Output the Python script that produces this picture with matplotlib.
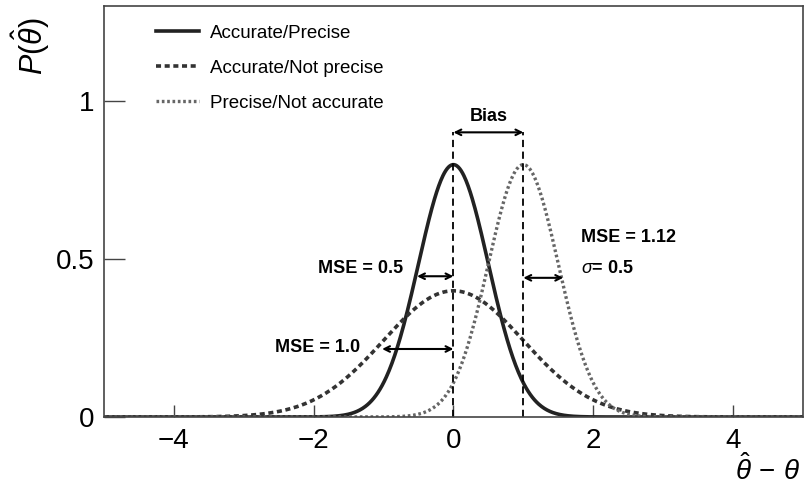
import matplotlib.pyplot as plt
import numpy as np

# Gaussian shapes (peak position and width)
labels = ['Accurate/Precise', 'Accurate/Not precise', 'Precise/Not accurate']
means = [0.0, 0.0, 1.0]
sigmas = [0.5, 1.0, 0.5]
styles = ['-', (0, (1.4, 1.0)), (0, (0.8, 0.8))]
widths = [2.6, 2.6, 2.4]
colors = ['#222222', '#333333', '#666666']

x_ticks = [-4, -2, 0, 2, 4]
x_tick_labels = ['\u22124', '\u22122', '0', '2', '4']
y_ticks = [0, 0.5, 1]
y_tick_labels = ['0', '0.5', '1']

plt.rcParams['font.family'] = ['Liberation Sans', 'DejaVu Sans']
plt.rcParams['mathtext.fontset'] = 'custom'
plt.rcParams['mathtext.rm'] = 'Liberation Sans'
plt.rcParams['mathtext.it'] = 'Liberation Sans:italic'

fig = plt.figure(figsize=(8.05, 4.86), dpi=100)
ax = fig.add_axes([0.129, 0.142, 0.8685, 0.846])

x = np.linspace(-5, 5, 1001)
for lab, m, s, ls, lw, c in zip(labels, means, sigmas, styles, widths, colors):
    y = np.exp(-0.5 * ((x - m) / s) ** 2) / (s * np.sqrt(2 * np.pi))
    ax.plot(x, y, linestyle=ls, linewidth=lw, color=c, label=lab)

# lignes verticales aux moyennes
ax.plot([0, 0], [0, 0.90], color='black', linestyle=(0, (4, 2.5)), linewidth=1.3)
ax.plot([1, 1], [0, 0.90], color='black', linestyle=(0, (4, 2.5)), linewidth=1.3)

arrow = dict(arrowstyle='<->', color='black', lw=1.5, shrinkA=0, shrinkB=0)
ax.annotate('', xy=(0, 0.90), xytext=(1, 0.90), arrowprops=arrow)
ax.text(0.5, 0.95, 'Bias', ha='center', va='center', fontsize=13, fontweight='bold')

ax.annotate('', xy=(-0.52, 0.445), xytext=(0, 0.445), arrowprops=arrow)
ax.text(-0.72, 0.47, 'MSE = 0.5', ha='right', va='center', fontsize=13, fontweight='bold')

ax.annotate('', xy=(-1.02, 0.215), xytext=(0, 0.215), arrowprops=arrow)
ax.text(-1.33, 0.22, 'MSE = 1.0', ha='right', va='center', fontsize=13, fontweight='bold')

ax.annotate('', xy=(1.0, 0.44), xytext=(1.57, 0.44), arrowprops=arrow)
ax.text(1.82, 0.566, 'MSE = 1.12', ha='left', va='center', fontsize=13, fontweight='bold')
ax.text(1.82, 0.47, r'$\sigma$= 0.5', ha='left', va='center', fontsize=13, fontweight='bold')

ax.set_xlim(-5, 5)
ax.set_ylim(0, 1.30)
ax.set_xticks(x_ticks)
ax.set_xticklabels(x_tick_labels)
ax.set_yticks(y_ticks)
ax.set_yticklabels(y_tick_labels)
ax.tick_params(axis='x', direction='in', length=9, width=1, color='#444444',
               labelsize=20, pad=8)
ax.tick_params(axis='y', direction='in', length=15, width=1, color='#444444',
               labelsize=20, pad=7)
for sp in ax.spines.values():
    sp.set_color('#444444')
    sp.set_linewidth(1.2)

# titres des axes
fig.text(0.994, 0.012, r'$\hat{\theta}\,-\,\theta$', fontsize=20, ha='right', va='baseline')
fig.text(0.038, 0.905, r'$P(\hat{\theta})$', fontsize=22, rotation=90,
         ha='center', va='center')

ax.legend(loc='upper left', bbox_to_anchor=(0.05, 0.995), frameon=False,
          fontsize=13.5, handlelength=2.3, handletextpad=0.6, labelspacing=0.95)

fig.savefig('out.png', dpi=100)
